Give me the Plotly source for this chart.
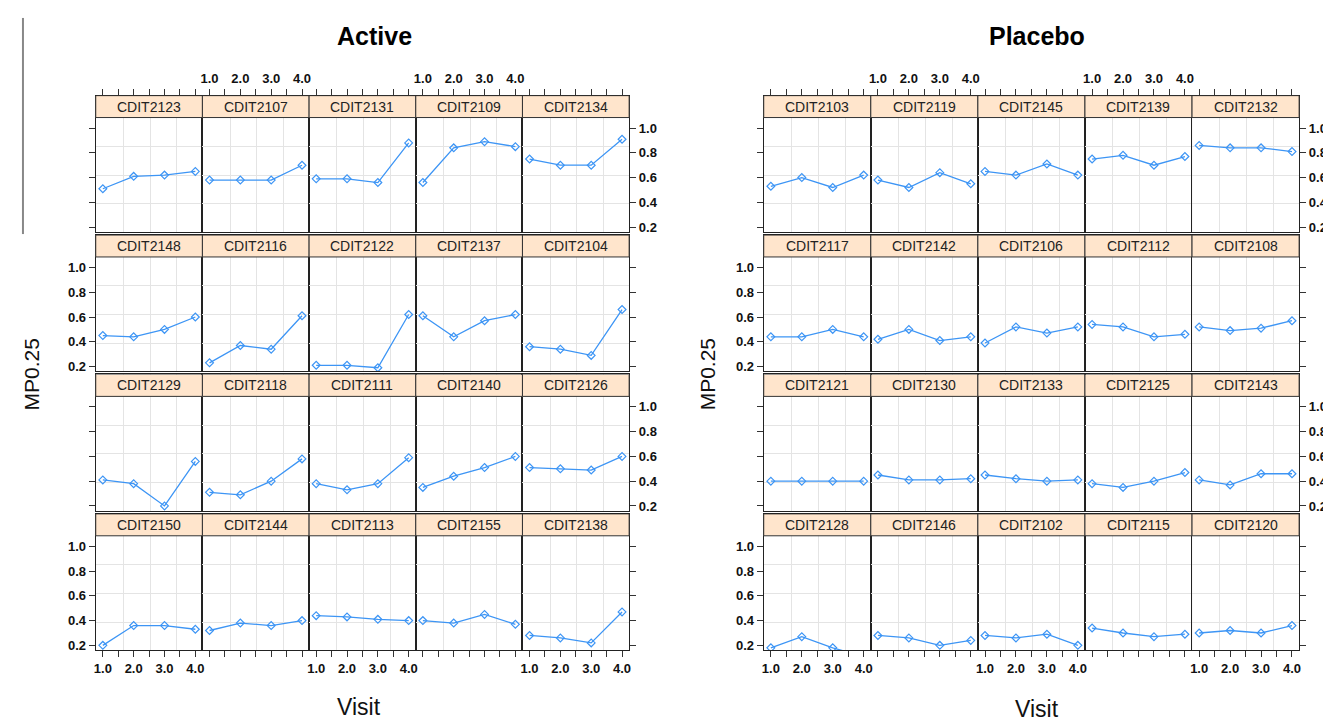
import plotly.graph_objects as go

# ---------------- data ----------------
visits = [1, 2, 3, 4]
x_tick_vals = [1, 1.5, 2, 2.5, 3, 3.5, 4]
x_tick_text = ["1.0", "", "2.0", "", "3.0", "", "4.0"]
y_tick_vals = [0.2, 0.4, 0.6, 0.8, 1.0]
y_tick_text = ["0.2", "0.4", "0.6", "0.8", "1.0"]

groups = ["Active", "Placebo"]

active_ids = ["CDIT2123", "CDIT2107", "CDIT2131", "CDIT2109", "CDIT2134",
              "CDIT2148", "CDIT2116", "CDIT2122", "CDIT2137", "CDIT2104",
              "CDIT2129", "CDIT2118", "CDIT2111", "CDIT2140", "CDIT2126",
              "CDIT2150", "CDIT2144", "CDIT2113", "CDIT2155", "CDIT2138"]
active_vals = [
    [0.51, 0.61, 0.62, 0.65], [0.58, 0.58, 0.58, 0.70], [0.59, 0.59, 0.56, 0.88],
    [0.56, 0.84, 0.89, 0.85], [0.75, 0.70, 0.70, 0.91],
    [0.45, 0.44, 0.50, 0.60], [0.23, 0.37, 0.34, 0.61], [0.21, 0.21, 0.19, 0.62],
    [0.61, 0.44, 0.57, 0.62], [0.36, 0.34, 0.29, 0.66],
    [0.41, 0.38, 0.20, 0.56], [0.31, 0.29, 0.40, 0.58], [0.38, 0.33, 0.38, 0.59],
    [0.35, 0.44, 0.51, 0.60], [0.51, 0.50, 0.49, 0.60],
    [0.20, 0.36, 0.36, 0.33], [0.32, 0.38, 0.36, 0.40], [0.44, 0.43, 0.41, 0.40],
    [0.40, 0.38, 0.45, 0.37], [0.28, 0.26, 0.22, 0.47],
]

placebo_ids = ["CDIT2103", "CDIT2119", "CDIT2145", "CDIT2139", "CDIT2132",
               "CDIT2117", "CDIT2142", "CDIT2106", "CDIT2112", "CDIT2108",
               "CDIT2121", "CDIT2130", "CDIT2133", "CDIT2125", "CDIT2143",
               "CDIT2128", "CDIT2146", "CDIT2102", "CDIT2115", "CDIT2120"]
placebo_vals = [
    [0.53, 0.60, 0.52, 0.62], [0.58, 0.52, 0.64, 0.55], [0.65, 0.62, 0.71, 0.62],
    [0.75, 0.78, 0.70, 0.77], [0.86, 0.84, 0.84, 0.81],
    [0.44, 0.44, 0.50, 0.44], [0.42, 0.50, 0.41, 0.44], [0.39, 0.52, 0.47, 0.52],
    [0.54, 0.52, 0.44, 0.46], [0.52, 0.49, 0.51, 0.57],
    [0.40, 0.40, 0.40, 0.40], [0.45, 0.41, 0.41, 0.42], [0.45, 0.42, 0.40, 0.41],
    [0.38, 0.35, 0.40, 0.47], [0.41, 0.37, 0.46, 0.46],
    [0.18, 0.27, 0.18, 0.11], [0.28, 0.26, 0.20, 0.24], [0.28, 0.26, 0.29, 0.20],
    [0.34, 0.30, 0.27, 0.29], [0.30, 0.32, 0.30, 0.36],
]

# ---------------- layout geometry (pixels) ----------------
W, H = 1331, 720
group_left = [86, 756]
panel_w = [107.0, 107.4]
strip_top0 = 88
row_pitch = 140
panel_bottom0 = 225

x_range = [0.77, 4.23]
y_lo, y_panel_hi, y_hi = 0.16, 1.085, 1.262
x_grid = [1.67, 2.53, 3.40]
y_grid = [0.387, 0.62, 0.853]

LINE = "#3d95f5"
TICKFONT = dict(family="Liberation Sans Narrow, Arial Narrow, Liberation Sans",
                size=13, color="#111", weight="bold")

fig = go.Figure()
layout = {}
shapes = []
annotations = []

all_ids = [active_ids, placebo_ids]
all_vals = [active_vals, placebo_vals]

for g in range(2):
    for r in range(4):
        for c in range(5):
            k = r * 5 + c
            n = g * 20 + k + 1
            xs = "" if n == 1 else str(n)
            x0 = group_left[g] + c * panel_w[g]
            x1 = x0 + panel_w[g]
            top = strip_top0 + r * row_pitch
            bot = panel_bottom0 + r * row_pitch
            xdom = [x0 / W, x1 / W]
            ydom = [1 - bot / H, 1 - top / H]

            show_xlab = (r == 0 and c in (1, 3)) or (r == 3 and c in (0, 2, 4))
            layout["xaxis" + xs] = dict(
                domain=xdom, anchor="y" + xs, range=x_range,
                tickmode="array", tickvals=x_tick_vals, ticktext=x_tick_text,
                ticks="outside" if r in (0, 3) else "", ticklen=6, tickwidth=1, tickcolor="#333",
                side="top" if r == 0 else "bottom",
                showticklabels=show_xlab, tickfont=TICKFONT,
                showgrid=False, zeroline=False,
                minor=dict(tickmode="array", tickvals=x_grid, showgrid=True,
                           gridcolor="#e4e4e4", gridwidth=1, ticks=""),
                showline=True, mirror=True, linecolor="#222", linewidth=1.2,
                fixedrange=True,
            )
            show_ylab = (c == 0 and r in (1, 3)) or (c == 4 and r in (0, 2))
            layout["yaxis" + xs] = dict(
                domain=ydom, anchor="x" + xs, range=[y_lo, y_hi],
                tickmode="array", tickvals=y_tick_vals, ticktext=y_tick_text,
                ticks="outside" if c in (0, 4) else "", ticklen=6, tickwidth=1, tickcolor="#333",
                side="right" if c == 4 else "left",
                showticklabels=show_ylab, tickfont=TICKFONT,
                showgrid=False, zeroline=False,
                minor=dict(tickmode="array", tickvals=y_grid, showgrid=True,
                           gridcolor="#e4e4e4", gridwidth=1, ticks=""),
                showline=True, mirror=True, linecolor="#222", linewidth=1.2,
                fixedrange=True,
            )

            fig.add_trace(go.Scatter(
                x=visits, y=all_vals[g][k], xaxis="x" + xs, yaxis="y" + xs,
                mode="lines+markers",
                line=dict(color=LINE, width=1.3),
                marker=dict(symbol="diamond-open", size=6, color=LINE, line=dict(width=1.2)),
                showlegend=False, hoverinfo="skip",
            ))

            shapes.append(dict(
                type="rect", xref=("x" + xs) + " domain", yref="y" + xs,
                x0=0, x1=1, y0=y_panel_hi, y1=y_hi,
                fillcolor="#ffe5cc", line=dict(color="#333", width=1), layer="above",
            ))
            annotations.append(dict(
                text=all_ids[g][k], xref=("x" + xs) + " domain", yref="y" + xs,
                x=0.5, y=(y_panel_hi + y_hi) / 2, showarrow=False,
                font=dict(family="Liberation Sans, Arial", size=14, color="#222"),
                xanchor="center", yanchor="middle",
            ))

# group titles and axis titles
title_x = [366, 1030]
ytitle_x = [22, 700]
xtitle_pos = [(350, 702), (1030, 704)]
for g in range(2):
    annotations.append(dict(
        text="<b>" + groups[g] + "</b>", xref="paper", yref="paper",
        x=title_x[g] / W, y=1 - 28 / H, showarrow=False,
        font=dict(family="Liberation Sans, Arial", size=25, color="#000"),
        xanchor="center", yanchor="middle",
    ))
    annotations.append(dict(
        text="MP0.25", xref="paper", yref="paper",
        x=ytitle_x[g] / W, y=1 - 368 / H, showarrow=False, textangle=-90,
        font=dict(family="Liberation Sans, Arial", size=21, color="#111"),
        xanchor="center", yanchor="middle",
    ))
    annotations.append(dict(
        text="Visit", xref="paper", yref="paper",
        x=xtitle_pos[g][0] / W, y=1 - xtitle_pos[g][1] / H, showarrow=False,
        font=dict(family="Liberation Sans, Arial", size=23, color="#111"),
        xanchor="center", yanchor="middle",
    ))

shapes.append(dict(type="line", xref="paper", yref="paper",
                   x0=13 / W, x1=13 / W, y0=1 - 10 / H, y1=1 - 227 / H,
                   line=dict(color="#888", width=2)))

fig.update_layout(
    width=W, height=H,
    margin=dict(l=0, r=0, t=0, b=0),
    paper_bgcolor="white", plot_bgcolor="white",
    shapes=shapes, annotations=annotations,
    **layout,
)

fig.write_html("out.html")
